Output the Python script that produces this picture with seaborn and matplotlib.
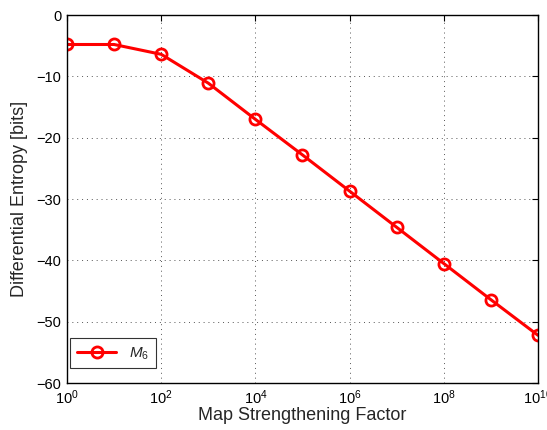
import matplotlib
matplotlib.use("Agg")
import matplotlib.pyplot as plt
import seaborn as sns
import pandas as pd
import numpy as np

strength = [1e0, 1e1, 1e2, 1e3, 1e4, 1e5, 1e6, 1e7, 1e8, 1e9, 1e10]
entropy = [-4.8, -4.8, -6.4, -11.1, -17.0, -22.8, -28.7, -34.6, -40.5, -46.4, -52.2]
series_name = "$M_6$"
xticks = [1e0, 1e2, 1e4, 1e6, 1e8, 1e10]
yticks = [0, -10, -20, -30, -40, -50, -60]

sns.set_style("white")
plt.rcParams['font.family'] = ['Liberation Sans', 'DejaVu Sans']
plt.rcParams['mathtext.fontset'] = 'custom'
plt.rcParams['mathtext.it'] = 'Liberation Sans:italic'
plt.rcParams['mathtext.rm'] = 'Liberation Sans'

df = pd.DataFrame({"x": strength, "y": entropy, "s": series_name})

fig = plt.figure(figsize=(5.47, 4.30), dpi=100)
ax = fig.add_axes([0.1225, 0.109, 0.861, 0.856])
sns.lineplot(data=df, x="x", y="y", hue="s", palette=["#ff0000"], marker="o",
             markersize=8, markerfacecolor="none", markeredgecolor="#ff0000",
             markeredgewidth=2, linewidth=2.2, ax=ax)
ax.set_xscale("log")
ax.set_xlim(1e0, 1e10)
ax.set_ylim(-60, 0)
ax.set_xticks(xticks)
ax.xaxis.set_minor_locator(matplotlib.ticker.NullLocator())
ax.set_yticks(yticks)
ax.grid(True, linestyle=(0, (1, 4)), color="#555555", linewidth=0.7)
for sp in ax.spines.values():
    sp.set_visible(True)
    sp.set_color("black")
    sp.set_linewidth(1.0)
ax.tick_params(direction="in", length=4, width=0.8, labelsize=10.5, top=True, right=True,
               colors="black", pad=4)
ax.set_xlabel("Map Strengthening Factor", fontsize=13, labelpad=0)
ax.set_ylabel("Differential Entropy [bits]", fontsize=13, labelpad=6)
leg = ax.legend(loc="lower left", bbox_to_anchor=(0.006, 0.04), frameon=True,
                fancybox=False, edgecolor="black",
                fontsize=11, handlelength=2.6, handletextpad=0.8,
                borderaxespad=0.0, borderpad=0.45)
leg.get_frame().set_linewidth(0.8)
fig.savefig("out.png", dpi=100)
